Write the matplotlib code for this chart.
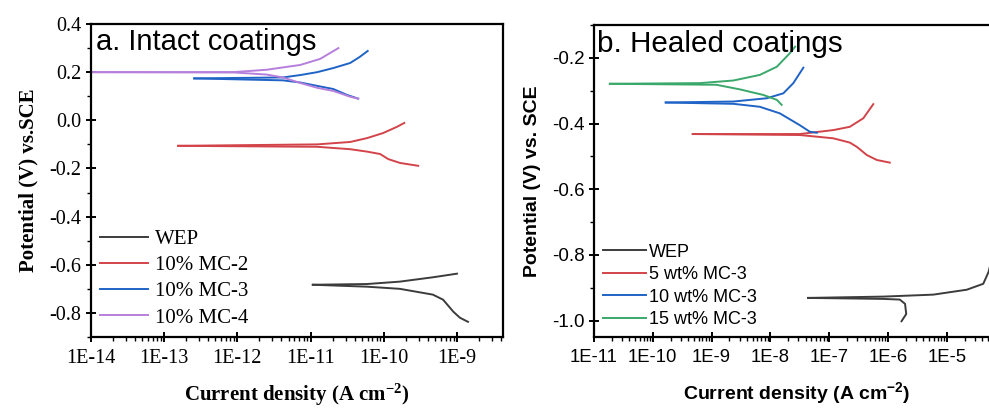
import matplotlib
matplotlib.use("Agg")
import matplotlib.pyplot as plt
import numpy as np
from matplotlib.ticker import LogLocator, FixedLocator, MultipleLocator

# ---------------- Data (log10 current density, potential V) ----------------
# Panel a: intact coatings
a_labels = ["WEP", "10% MC-2", "10% MC-3", "10% MC-4"]
a_colors = ["#3c3c3c", "#d2444a", "#1f63c6", "#b77fdc"]

a_wep_anodic_logi = [-10.97, -10.23, -9.78, -9.33, -9.0]
a_wep_anodic_e = [-0.683, -0.680, -0.670, -0.652, -0.637]
a_wep_cathodic_logi = [-10.97, -10.23, -9.78, -9.33, -9.19, -9.05, -8.96, -8.85]
a_wep_cathodic_e = [-0.683, -0.691, -0.700, -0.724, -0.745, -0.795, -0.820, -0.837]

a_mc2_anodic_logi = [-12.81, -10.91, -10.46, -10.23, -10.01, -9.82, -9.72]
a_mc2_anodic_e = [-0.106, -0.100, -0.090, -0.074, -0.053, -0.027, -0.011]
a_mc2_cathodic_logi = [-12.81, -10.91, -10.46, -10.23, -10.05, -9.94, -9.78, -9.53]
a_mc2_cathodic_e = [-0.106, -0.110, -0.120, -0.130, -0.140, -0.161, -0.177, -0.189]

a_mc3_anodic_logi = [-12.59, -11.38, -11.14, -10.91, -10.69, -10.46, -10.33, -10.22]
a_mc3_anodic_e = [0.174, 0.178, 0.188, 0.200, 0.217, 0.238, 0.263, 0.288]
a_mc3_cathodic_logi = [-12.59, -11.38, -11.14, -10.91, -10.69, -10.50, -10.35]
a_mc3_cathodic_e = [0.174, 0.166, 0.157, 0.143, 0.130, 0.105, 0.090]

a_mc4_anodic_logi = [-14.0, -12.06, -11.6, -11.14, -10.87, -10.62]
a_mc4_anodic_e = [0.200, 0.200, 0.210, 0.230, 0.255, 0.300]
a_mc4_cathodic_logi = [-14.0, -12.06, -11.6, -11.38, -11.14, -10.91, -10.69, -10.46, -10.35]
a_mc4_cathodic_e = [0.200, 0.199, 0.190, 0.178, 0.155, 0.135, 0.122, 0.098, 0.090]

# Panel b: healed coatings
b_labels = ["WEP", "5 wt% MC-3", "10 wt% MC-3", "15 wt% MC-3"]
b_colors = ["#3c3c3c", "#d2444a", "#1f63c6", "#3aa86a"]

b_wep_anodic_logi = [-7.36, -6.08, -5.23, -4.66, -4.38, -4.29, -4.24]
b_wep_anodic_e = [-0.931, -0.927, -0.921, -0.906, -0.888, -0.852, -0.817]
b_wep_cathodic_logi = [-7.36, -6.08, -5.80, -5.71, -5.69, -5.77]
b_wep_cathodic_e = [-0.931, -0.934, -0.936, -0.949, -0.980, -1.002]

b_mc5_anodic_logi = [-9.32, -7.5, -6.93, -6.65, -6.42, -6.25]
b_mc5_anodic_e = [-0.432, -0.432, -0.420, -0.410, -0.384, -0.341]
b_mc5_cathodic_logi = [-9.32, -7.5, -6.93, -6.65, -6.53, -6.36, -6.19, -5.97]
b_mc5_cathodic_e = [-0.432, -0.435, -0.445, -0.458, -0.471, -0.496, -0.511, -0.519]

b_mc10_anodic_logi = [-9.78, -8.63, -8.06, -7.78, -7.61, -7.44]
b_mc10_anodic_e = [-0.336, -0.333, -0.323, -0.308, -0.277, -0.230]
b_mc10_cathodic_logi = [-9.78, -8.63, -8.18, -7.84, -7.50, -7.33, -7.21]
b_mc10_cathodic_e = [-0.336, -0.340, -0.349, -0.369, -0.405, -0.425, -0.428]

b_mc15_anodic_logi = [-10.73, -9.2, -8.63, -8.18, -7.89, -7.67, -7.58]
b_mc15_anodic_e = [-0.279, -0.277, -0.269, -0.252, -0.227, -0.186, -0.166]
b_mc15_cathodic_logi = [-10.73, -8.92, -8.52, -8.12, -7.89, -7.81]
b_mc15_cathodic_e = [-0.279, -0.282, -0.296, -0.313, -0.328, -0.343]

a_xticks = [1e-14, 1e-13, 1e-12, 1e-11, 1e-10, 1e-9]
a_xticklabels = ["1E-14", "1E-13", "1E-12", "1E-11", "1E-10", "1E-9"]
a_yticks = [-0.8, -0.6, -0.4, -0.2, 0.0, 0.2, 0.4]
b_xticks = [1e-11, 1e-10, 1e-9, 1e-8, 1e-7, 1e-6, 1e-5]
b_xticklabels = ["1E-11", "1E-10", "1E-9", "1E-8", "1E-7", "1E-6", "1E-5"]
b_yticks = [-1.0, -0.8, -0.6, -0.4, -0.2]

# ---------------- Figure ----------------
W, H = 989, 408
fig = plt.figure(figsize=(W / 100, H / 100), dpi=100)

def pos(x0, y0, x1, y1):
    return [x0 / W, 1 - y1 / H, (x1 - x0) / W, (y1 - y0) / H]

serif = "Liberation Serif"
sans = "Liberation Sans"

axa = fig.add_axes(pos(91, 24, 503, 337))
axb = fig.add_axes(pos(594, 25, 1000, 337))

def draw(ax, branches, labels, colors):
    for (al, ae, cl, ce), lab, col in zip(branches, labels, colors):
        ax.plot(10 ** np.array(al), ae, color=col, lw=1.4, label=lab)
        ax.plot(10 ** np.array(cl), ce, color=col, lw=1.4)

draw(axa, [
    (a_wep_anodic_logi, a_wep_anodic_e, a_wep_cathodic_logi, a_wep_cathodic_e),
    (a_mc2_anodic_logi, a_mc2_anodic_e, a_mc2_cathodic_logi, a_mc2_cathodic_e),
    (a_mc3_anodic_logi, a_mc3_anodic_e, a_mc3_cathodic_logi, a_mc3_cathodic_e),
    (a_mc4_anodic_logi, a_mc4_anodic_e, a_mc4_cathodic_logi, a_mc4_cathodic_e),
], a_labels, a_colors)

draw(axb, [
    (b_wep_anodic_logi, b_wep_anodic_e, b_wep_cathodic_logi, b_wep_cathodic_e),
    (b_mc5_anodic_logi, b_mc5_anodic_e, b_mc5_cathodic_logi, b_mc5_cathodic_e),
    (b_mc10_anodic_logi, b_mc10_anodic_e, b_mc10_cathodic_logi, b_mc10_cathodic_e),
    (b_mc15_anodic_logi, b_mc15_anodic_e, b_mc15_cathodic_logi, b_mc15_cathodic_e),
], b_labels, b_colors)

for ax in (axa, axb):
    ax.set_xscale("log")
    for s in ax.spines.values():
        s.set_linewidth(1.6)
    ax.xaxis.set_minor_locator(LogLocator(base=10, subs=np.arange(2, 10), numticks=50))
    ax.yaxis.set_minor_locator(MultipleLocator(0.1))
    ax.tick_params(which="major", direction="inout", length=7, width=1.4, top=False, right=False)
    ax.tick_params(which="minor", direction="out", length=3, width=1.0, top=False, right=False)

xlab = "Current density (A cm$\\mathregular{^{-2}}$)"

axa.set_xlim(1e-14, 10 ** (-14 + (503 - 91) / 73.2))
axa.set_ylim(-0.9, 0.4)
axa.xaxis.set_major_locator(FixedLocator(a_xticks))
axa.set_xticklabels(a_xticklabels, fontfamily=serif, fontsize=14.5)
axa.set_yticks(a_yticks)
axa.set_yticklabels([f"{v:.1f}" for v in a_yticks], fontfamily=serif, fontsize=14.5)
axa.tick_params(axis="x", which="major", pad=5)
axa.set_ylabel("Potential (V) vs.SCE", fontfamily=serif, fontweight="bold", fontsize=15, labelpad=8)
axa.set_xlabel(xlab, fontfamily=serif, fontweight="bold", fontsize=15, labelpad=10)
axa.text(0.013, 0.917, "a. Intact coatings", transform=axa.transAxes, fontfamily=sans,
         fontsize=21, va="baseline", ha="left")
axa.legend(loc="lower left", bbox_to_anchor=(0.0, 0.0), frameon=False,
           prop={"family": serif, "size": 15}, handlelength=2.3, handletextpad=0.3,
           labelspacing=0.32, borderaxespad=0.15, borderpad=0.3)

axb.set_xlim(1e-11, 10 ** (-11 + (1000 - 594) / 58.8))
axb.set_ylim(-1.05, -0.1)
axb.xaxis.set_major_locator(FixedLocator(b_xticks))
axb.set_xticklabels(b_xticklabels, fontfamily=sans, fontsize=13.3)
axb.set_yticks(b_yticks)
axb.set_yticklabels([f"{v:.1f}" for v in b_yticks], fontfamily=sans, fontsize=13.5)
axb.tick_params(axis="x", which="major", pad=5)
axb.set_ylabel("Potential (V) vs. SCE", fontfamily=sans, fontweight="bold", fontsize=14, labelpad=8)
axb.set_xlabel(xlab, fontfamily=sans, fontweight="bold", fontsize=14, labelpad=10)
axb.text(0.007, 0.913, "b. Healed coatings", transform=axb.transAxes, fontfamily=sans,
         fontsize=21.3, va="baseline", ha="left")
axb.legend(loc="lower left", bbox_to_anchor=(0.0, 0.0), frameon=False,
           prop={"family": sans, "size": 13}, handlelength=2.4, handletextpad=0.15,
           labelspacing=0.3, borderaxespad=0.2, borderpad=0.3)

fig.savefig("out.png", dpi=100)
